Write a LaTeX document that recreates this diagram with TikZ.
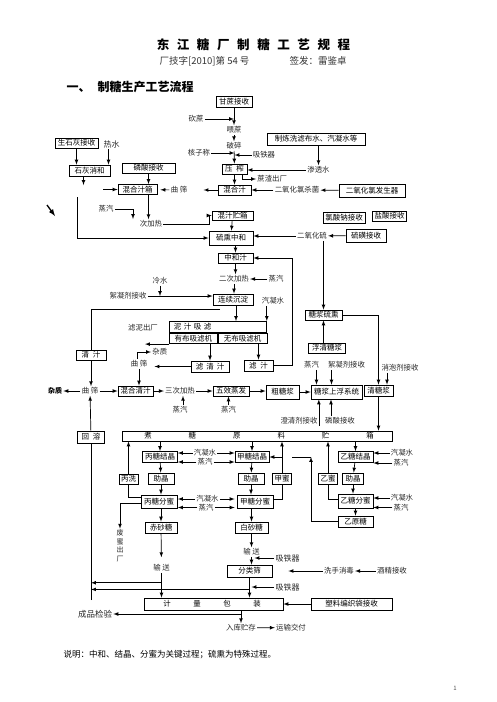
\documentclass[tikz,border=0pt]{standalone}
\usepackage{fontspec}
\setmainfont{Noto Sans CJK SC}
\usetikzlibrary{positioning}
\newcommand{\gp}{\hspace{4pt}}
\tikzset{%
  box/.style={
    draw,
    line width=0.8pt,
    inner xsep=2pt,
    inner ysep=1pt,
    minimum height=10,
    font=\fontsize{7.5}{8}\selectfont
  },
  lbl/.style={inner sep=1pt, text=black!85},
  bw/.style={minimum width=#1},
  bh/.style={minimum height=#1},
}

\begin{document}
\begin{tikzpicture}[x=1pt,y=-1pt,>=latex,line width=0.7pt,font=\fontsize{7.4}{8}\selectfont]
        \useasboundingbox (0,0) rectangle (496,702);

        % heading
        \foreach \c [count=\i from 0] in {东,江,糖,厂,制,糖,工,艺,规,程}
          \node[font=\fontsize{12.5}{13}\bfseries] (tt\i) at ({163+\i*20.1},45) {\c};
        \node[anchor=west,font=\fontsize{9.5}{10}\selectfont,text=black!80] (code) at (156,61) {厂技字[2010]第 54 号};
        \node[anchor=west,font=\fontsize{9.5}{10}\selectfont,text=black!80] (sign) at (286,61) {签发：雷鉴卓};
        \node[anchor=west,font=\fontsize{12}{13}\bfseries] (head) at (63,87) {一、\hspace{7pt}制糖生产工艺流程};

        % cane and milling
        \node[box,bw=36,bh=11] (cane) at (234,101.5) {甘蔗接收};
        \node[lbl] (cut) at (196,119) {砍蔗};
        \node[lbl] (feed) at (234,130) {喂蔗};
        \node[lbl] (crush) at (234,146) {破碎};
        \node[lbl] (scale) at (199,153) {核子称};
        \node[lbl] (mag1) at (264,155) {吸铁器};
        \node[box,bw=25] (press) at (234.5,169) {压\gp 榨};
        \node[box,bw=98,bh=12] (wash) at (316,139) {制炼洗滤布水、汽凝水等};
        \node[lbl] (infil) at (318.5,170) {渗透水};
        \node[lbl,anchor=west] (bag) at (256,179) {蔗渣出厂};
        \node[box,bw=33] (mix) at (234.5,190) {混合汁};
        \node[lbl] (steril) at (297,190) {二氧化氯杀菌};
        \node[box,bw=66,bh=13] (clogen) at (372,190.5) {二氧化氯发生器};

        \draw[->] (cane) -- (feed);
        \draw[->] (cut.east) -- (cut.east -| cane.south);
        \draw[->] (feed) -- (crush);
        \draw[->] (crush) -- (press);
        \draw[->] (scale.east) -- (scale.east -| press.north);
        \draw[->] (mag1.west) -- (mag1.west -| press.north);
        \draw[->] (infil.north |- wash.south) -- (infil.north);
        \draw[->] (infil.west) -- (infil.west -| press.east);
        \draw[->] ([xshift=8pt]press.south) |- (bag.west);
        \draw[->] (press) -- (mix);
        \draw[->] (clogen) -- (steril);
        \draw[->] (steril) -- (mix);

        % lime and mixed juice
        \node[box,bw=43] (lime) at (76.5,143) {生石灰接收};
        \node[lbl,font=\fontsize{8}{9}\selectfont] (hotw) at (111.5,144) {热水};
        \node[box,bw=41,bh=11] (slake) at (89.5,170.5) {石灰消和};
        \node[box,bw=53] (phos1) at (148.5,168) {磷酸接收};
        \node[lbl] (scr1) at (179,190) {曲 筛};
        \node[box,bw=39] (mixtank) at (137.5,189.5) {混合汁箱};
        \node[lbl] (steam1) at (106,209) {蒸汽};
        \node[lbl] (heat1) at (151,224) {次加热};
        \node[box,bw=41,bh=9] (rawtank) at (232.5,215.5) {混汁贮箱};
        \node[box,bw=44,bh=14] (sulfit) at (231,238) {硫熏中和};
        \coordinate (slakeout) at (83.5,185);
        \coordinate (limein) at (103,189.5);
        \coordinate (limeline) at (77,197);
        \coordinate (h1in) at (133,219);
        \coordinate (mk1) at (47,205);
        \coordinate (mk2) at (55,216);

        \draw[->] (lime) -- (lime |- slake.north);
        \draw[->] ([xshift=-3pt]hotw.south) -- ([xshift=-3pt]hotw.south |- slake.north);
        \draw[->] (slakeout |- slake.south) -- (slakeout);
        \draw[->,shorten >=15pt] (mix) -- (scr1);
        \draw[->,shorten >=3pt] (scr1) -- (mixtank);
        \draw[->] (limein) -- (mixtank);
        \draw[->] (phos1.south) -- (phos1.south |- mixtank.north);
        \draw[->] (mixtank.south -| phos1.south) -- (heat1.north -| phos1.south);
        \draw[->] (steam1.east) -| (h1in);
        \draw[->] (heat1.east) -- ++(46,0) |- (rawtank.west);
        \draw[->] (rawtank) -- (sulfit);
        \draw[->] (limeline) |- (sulfit.west);
        \draw[->,line width=1.3pt] (mk1) -- (mk2);

        % sulphitation and clarification
        \node[box,bw=42,bh=11] (naclo) at (344,217.5) {氯酸钠接收};
        \node[box,bw=33] (hcl) at (389.5,216) {盐酸接收};
        \node[lbl] (so2) at (312,236) {二氧化硫};
        \node[box,bw=40,bh=13] (sulfur) at (366,235.5) {硫磺接收};
        \node[box,bw=35] (neut) at (235.5,258) {中和汁};
        \node[lbl] (heat2) at (234,279) {二次加热};
        \node[lbl] (steam2) at (276,279) {蒸汽};
        \node[lbl] (cold) at (160,281) {冷水};
        \node[lbl] (floc1) at (128,296) {絮凝剂接收};
        \node[box,bw=40,bh=11] (settle) at (233,299.5) {连续沉淀};
        \node[lbl] (cond1) at (273,301) {汽凝水};
        \node[lbl] (mudout) at (143,328) {滤泥出厂};
        \node[box,bw=97,bh=11,anchor=north west,text width=88,align=left] (mudf) at (169,321) {泥 汁 吸 滤};
        \node[box,bw=48,bh=10.5,anchor=north west] (cloth) at (mudf.south west) {有布吸滤机};
        \node[box,bw=49,bh=10.5,right=0pt of cloth] (nocloth) {无布吸滤机};
        \node[box,bw=38,bh=11] (clearj) at (210,366.5) {滤\hspace{3pt}清\hspace{3pt}汁};
        \node[box,bw=29,bh=11] (filt) at (258.5,365.5) {滤\gp 汁};
        \node[box,bw=37] (syrsulf) at (323.5,315) {糖浆硫熏};

        \draw[->] (sulfur) -- (so2);
        \draw[->] (so2.west) -- (so2.west -| sulfit.east);
        \draw[->] (neut.north |- sulfit.south) -- (neut.north);
        \draw[->] (neut.south) -- (neut.south |- heat2.north);
        \draw[->] (steam2) -- (heat2);
        \draw[->] (heat2) -- (heat2 |- settle.north);
        \draw[->] (floc1.east) -- (floc1.east -| settle.west);
        \draw[->] (cold) -- (cold |- floc1.east);
        \draw[->] ([xshift=3pt]settle.south) -- ([xshift=3pt]settle.south |- mudf.north);
        \draw[->] (cond1.south -| mudf.north east) -- (mudf.north east);
        \draw[->,shorten >=2pt] (cloth.south west) -- (cloth.south west -| mudout);
        \draw[->] (cloth.south -| clearj.north) -- (clearj.north);
        \draw[->] (nocloth.south -| filt.north) -- (filt.north);
        \draw[->] (filt.east) -- ++(19,0) |- (neut.east);
        \draw[->] (syrsulf.north |- so2.south) -- (syrsulf.north);

        % clear juice and evaporation
        \node[box,bw=30] (clar) at (91,355) {清\gp 汁};
        \node[lbl] (scr2) at (139,364) {曲 筛};
        \node[lbl,anchor=west] (imp2) at (151,352) {杂质};
        \node[lbl] (scr3) at (90,391) {曲 筛};
        \node[lbl,text=black,font=\fontsize{7}{8}\bfseries] (imp3) at (55,391) {杂质};
        \node[box,bw=35] (mixclear) at (135.5,391) {混合清汁};
        \node[lbl] (heat3) at (180,391) {三次加热};
        \node[lbl] (steam3) at (180,410) {蒸汽};
        \node[box,bw=36] (evap) at (231,391) {五效蒸发};
        \node[lbl] (steam4) at (228.5,410) {蒸汽};
        \node[box,bw=33,bh=14] (crude) at (282.5,392) {粗糖浆};
        \node[box,bw=51,bh=14] (float) at (336.5,392) {糖浆上浮系统};
        \node[lbl] (steam5) at (311.5,365) {蒸汽};
        \node[lbl] (floc2) at (346.5,365) {絮凝剂接收};
        \node[lbl] (clarif) at (299,421) {澄清剂接收};
        \node[lbl] (phos2) at (340,421) {磷酸接收};
        \node[box,bw=37] (floatsyr) at (327,348) {浮清糖浆};
        \node[box,bw=29,bh=11] (clearsyr) at (378.5,390.5) {清糖浆};
        \node[lbl] (defoam) at (400,368) {消泡剂接收};

        \draw ([xshift=-13pt,yshift=-4pt]settle.south) -| (clar.north);
        \draw[->,shorten >=6pt] (clearj.west) -- (clearj.west -| scr2.east);
        \draw[->] ([xshift=-2pt]scr2.north) |- (imp2.west);
        \draw[->] (scr2) -- (scr2 |- mixclear.north);
        \draw[->] (clar) -- (clar |- scr3.north);
        \draw[->] (scr3) -- (imp3);
        \draw[->] (scr3) -- (mixclear);
        \draw[->] (mixclear) -- (heat3);
        \draw[->] (heat3) -- (evap);
        \draw[->] ([xshift=3pt]steam3.north) -- ([xshift=3pt]steam3.north |- heat3.south);
        \draw[->] (steam4) -- (steam4 |- evap.south);
        \draw[->] (evap.east) -- (evap.east -| crude.west);
        \draw[->] (crude) -- (float);
        \draw[->] ([xshift=5pt]steam5.south) -- ([xshift=5pt]steam5.south |- float.north);
        \draw[->] ([xshift=-15pt]floc2.south) -- ([xshift=-15pt]floc2.south |- float.north);
        \draw[->] (clarif.south east) -- (clarif.south east |- float.south);
        \draw[->] ([xshift=-9pt]phos2.north) -- ([xshift=-9pt]phos2.north |- float.south);
        \draw[->] (floatsyr.north -| syrsulf.south) -- (syrsulf.south);
        \draw[->] (syrsulf.east) -| (clearsyr.north);
        \draw[->] ([xshift=-13pt]defoam.south) -- ([xshift=-13pt]defoam.south |- clearsyr.north);

        % boiling house
        \node[box,bw=270] (storage) at (257,436) {};
        \foreach \c [count=\i from 0] in {煮,糖,原,料,贮,箱}
          \node[lbl,text=black] (st\i) at ({148+\i*44.4},436) {\c};
        \node[box,bw=27,bh=12] (remelt) at (91,437) {回\gp 溶};
        \coordinate (rmbot) at (91,600);
        \draw[->] (clearsyr) -- (clearsyr |- storage.north);
        \draw[->] (remelt) -- (scr3);
        \draw (rmbot) -- (remelt.south);

        \node[box,bw=35,bh=11] (cryC) at (160,457) {丙糖结晶};
        \node[box,bw=34,bh=11] (cryA) at (252,457) {甲糖结晶};
        \node[box,bw=35,bh=11] (cryB) at (355.5,457) {乙糖结晶};
        \node[lbl] (condC) at (205,453) {汽凝水};
        \node[lbl] (stmC) at (205,462) {蒸汽};
        \node[lbl] (condB) at (402,453) {汽凝水};
        \node[lbl] (stmB) at (401,463) {蒸汽};
        \node[box,bw=26,bh=11] (aidC) at (161,478.5) {助晶};
        \node[box,bw=26,bh=11] (aidA) at (251,478.5) {助晶};
        \node[box,bw=21,bh=11] (aidB) at (353,478.5) {助晶};
        \node[box,bw=19] (washC) at (128.5,479) {丙洗};
        \node[box,bw=17,bh=11] (molA) at (282,478.5) {甲蜜};
        \node[box,bw=18,bh=11] (molB) at (328,478.5) {乙蜜};
        \node[box,bw=36,bh=13] (sepC) at (159,501.5) {丙糖分蜜};
        \node[box,bw=36,bh=13] (sepA) at (255,501.5) {甲糖分蜜};
        \node[box,bw=35,bh=14] (sepB) at (355.5,501) {乙糖分蜜};
        \node[lbl] (condC2) at (207.5,499) {汽凝水};
        \node[lbl] (stmC2) at (206,507.5) {蒸汽};
        \node[lbl] (condB2) at (402,498) {汽凝水};
        \node[lbl] (stmB2) at (401,507.5) {蒸汽};
        \node[box,bw=35,bh=11] (rawB) at (355.5,521.5) {乙原糖};
        \node[box,bw=32,bh=11] (sugarC) at (161,527.5) {赤砂糖};
        \node[box,bw=33,bh=11] (sugarA) at (251.5,527.5) {白砂糖};
        \node[lbl,align=center,font=\fontsize{7}{8.5}\selectfont] (waste) at (120,546) {废\\蜜\\出\\厂};
        \coordinate (magtop) at (311,457);

        \draw[->] (storage.south -| cryC.north) -- (cryC.north);
        \draw[->] (storage.south -| cryA.north) -- (cryA.north);
        \draw[->] (storage.south -| cryB.north) -- (cryB.north);
        \foreach \l in {condC,stmC,condC2,stmC2} {
          \draw[->] (\l.west) -- (\l.west -| cryC.east);
          \draw[->] (\l.east) -- (\l.east -| cryA.west);
        }
        \foreach \l in {condB,stmB,condB2,stmB2}
          \draw[->] (\l.west) -- (\l.west -| cryB.east);
        \draw[->] (cryC) -- (aidC);
        \draw[->] (cryA) -- (aidA);
        \draw[->] (cryB) -- (aidB);
        \draw[->] (aidC) -- (aidC |- sepC.north);
        \draw[->] (aidA) -- (aidA |- sepA.north);
        \draw[->] (aidB) -- (aidB |- sepB.north);
        \draw ([yshift=4pt]sepC.west) -| (washC.south);
        \draw[->] (washC.north) -- (washC.north |- storage.south);
        \draw[->] ([yshift=-2pt]sepC.west) -| (waste.north);
        \draw ([yshift=2pt]sepA.east) -| (molA.south);
        \draw[->] (molA.north) -- (molA.north |- storage.south);
        \draw[->] (molA.north |- cryA.east) -- (cryA.east);
        \draw ([yshift=2pt]sepB.west) -| (molB.south);
        \draw[->] (molB.north) -- (molB.north |- storage.south);
        \draw[->] (sepB) -- (rawB);
        \draw[->] (rawB.west) -| (magtop);
        \draw (magtop) -- (magtop -| molA.east);
        \draw[->] (sepC.south -| sugarC.north) -- (sugarC.north);
        \draw[->] (sepA.south -| sugarA.north) -- (sugarA.north);

        % packing
        \node[lbl] (convC) at (161.5,568) {输 送};
        \node[lbl] (convA) at (251.5,552) {输 送};
        \node[box,bw=45,bh=12] (sieve) at (249.5,571) {分类筛};
        \node[lbl,font=\fontsize{8}{9}\selectfont] (mag2) at (287.5,558) {吸铁器};
        \node[lbl,font=\fontsize{8}{9}\selectfont] (mag3) at (287.5,587) {吸铁器};
        \node[lbl] (wash2) at (339,571) {洗手消毒};
        \node[lbl] (alc) at (392,571) {酒精接收};
        \node[box,bw=139,bh=12] (pack) at (213.5,604) {};
        \foreach \c [count=\i from 0] in {计,量,包,装}
          \node[lbl,text=black] (pk\i) at ({167+\i*30},604) {\c};
        \node[box,bw=81,bh=12] (bagbox) at (351.5,604) {塑料编织袋接收};
        \node[lbl] (store) at (241,628) {入库贮存};
        \node[lbl] (ship) at (291,627.5) {运输交付};
        \node[lbl,font=\fontsize{8.5}{9}\selectfont] (qc) at (95,614) {成品检验};
        \path (convC.south) ++(0,10) coordinate (jC);
        \path (sieve.south) ++(0,12) coordinate (jA);

        \draw[->,shorten >=6pt] (sugarC) -- (convC);
        \draw[->] (convC) -- (convC |- pack.north);
        \draw[->] (jC) -- (jC -| rmbot);
        \draw[->] (sugarA) -- (convA);
        \draw[->] (convA) -- (convA |- sieve.north);
        \draw[->,shorten >=3pt] (mag2.west) -- (mag2.west -| convA.south);
        \draw[->,shorten >=16pt] (wash2.west) -- (wash2.west -| sieve.east);
        \draw[->] (alc) -- (wash2);
        \draw[->,shorten >=2pt] (mag3.west) -- (mag3.west -| sieve.south);
        \draw[->] (sieve) -- (sieve |- pack.north);
        \draw[->] (jA) -- (jA -| rmbot);
        \draw[->] (bagbox) -- (pack);
        \draw[->] (store.north |- pack.south) -- (store.north);
        \draw[->] (store) -- (ship);
        \draw[->] (store.north |- qc) -- (qc);

        % note
        \node[anchor=west,font=\fontsize{8.5}{9}\selectfont] (note) at (60,655) {说明：中和、结晶、分蜜为关键过程；硫熏为特殊过程。};
        \node[font=\fontsize{6}{7}\selectfont,text=black!70] (pg) at (455,688) {1};
    \end{tikzpicture}
\end{document}
